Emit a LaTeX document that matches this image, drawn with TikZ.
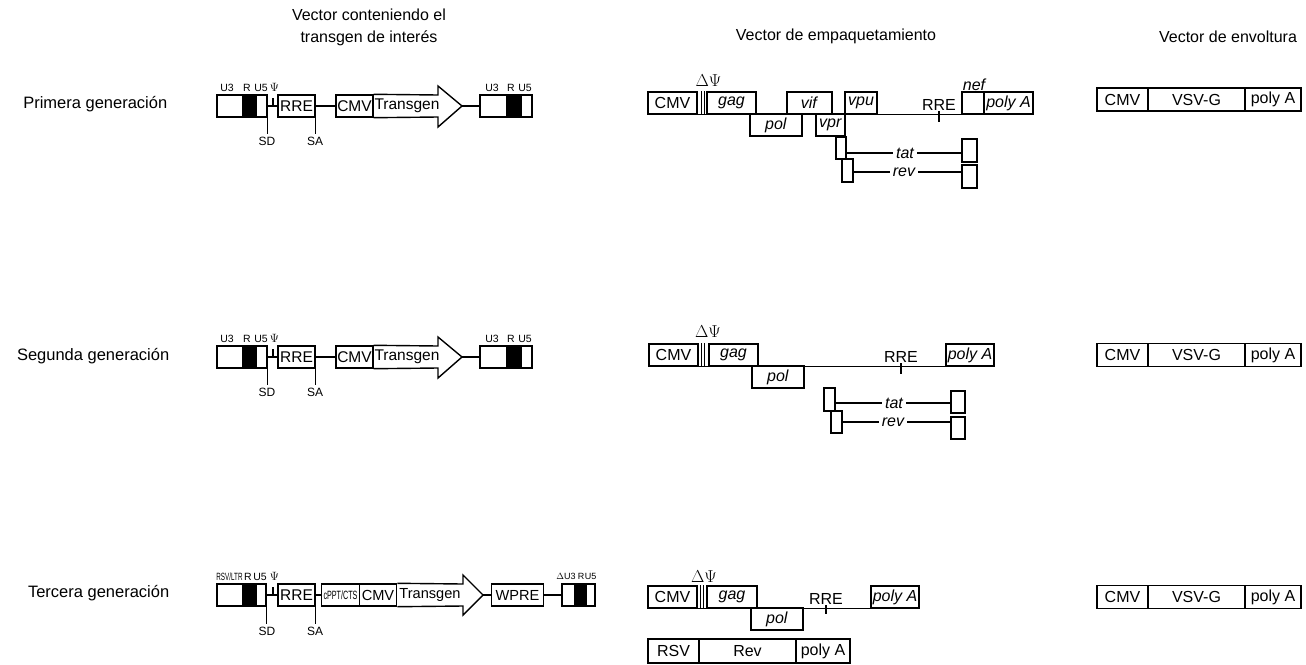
\documentclass[tikz,border=0pt]{standalone}
\usepackage{fontspec}
\setmainfont{Liberation Sans}
\usepackage{graphicx}
\usetikzlibrary{positioning,calc}

\begin{document}
\begin{tikzpicture}[
		x=1pt, y=-1pt, line width=1.4pt,
		every node/.style={inner sep=0pt},
		caja/.style={draw, rectangle, minimum height=22pt, font=\fontsize{16}{16}\selectfont},
		cajat/.style={caja, font=\fontsize{15.5}{15.5}\selectfont},
		negro/.style={draw, fill=black, rectangle, minimum height=22pt},
		chico/.style={font=\fontsize{10.5}{10.5}\selectfont},
		mini/.style={font=\fontsize{9}{9}\selectfont},
		psi/.style={font=\fontsize{12.5}{12.5}\selectfont},
		sitio/.style={font=\fontsize{12}{12}\selectfont, inner sep=2.5pt},
		gen/.style={font=\fontsize{16}{16}\selectfont\itshape, inner sep=2.5pt},
		texto/.style={font=\fontsize{16}{16}\selectfont},
		fila/.style={anchor=east, font=\fontsize{16.5}{16.5}\selectfont},
		titulo/.style={align=center, font=\fontsize{16}{22}\selectfont}
		]
		\useasboundingbox (0,0) rectangle (1306,664);
		
		% Los titulos
		\node[titulo] (t1) at (369,27) {Vector conteniendo el\\transgen de interés};
		\node[titulo] (t2) at (836,36) {Vector de empaquetamiento};
		\node[titulo] (t3) at (1228,37) {Vector de envoltura};
		\node[fila] (f1) at (168,104) {Primera generación};
		\node[fila] (f2) at (170,356) {Segunda generación};
		\node[fila] (f3) at (170,593) {Tercera generación};
		
		% Primera generacion - vector de transferencia
		\node[cajat, minimum width=50pt] (ltrA1) at (242,106) {};
		\node[negro, minimum width=13pt] (rA1) at (249.5,106) {};
		\node[chico] (u3A1) at (227,88) {U3};
		\node[chico] (rrA1) at (247,88) {R};
		\node[chico] (u5A1) at (261,88) {U5};
		\node[psi] (psiA1) at (274.5,87) {$\Psi$};
		\node[cajat, minimum width=37pt] (rre1) at (296.5,106) {RRE};
		\node[sitio] (sd1) at (267,141) {SD};
		\node[sitio] (sa1) at (315,141) {SA};
		\node[cajat, minimum width=37pt] (cmvT1) at (354.5,106) {CMV};
		\draw (cmvT1.north east) -- (438,95) -- (438,86) -- (462,106) coordinate (punta1)
			-- (438,127) -- (438,117) -- (cmvT1.south east);
		\node[font=\fontsize{15.5}{15.5}\selectfont] (tg1) at (407,106) {Transgen};
		\node[cajat, minimum width=52pt] (ltrB1) at (506,106) {};
		\node[negro, minimum width=14pt] (rB1) at (514,106) {};
		\node[chico] (u3B1) at (492,88) {U3};
		\node[chico] (rrB1) at (511,88) {R};
		\node[chico] (u5B1) at (525,88) {U5};
		\coordinate (tick1) at (273,98);
		\draw (ltrA1) -- (rre1);
		\draw (rre1) -- (cmvT1);
		\draw (punta1) -- (ltrB1);
		\draw (tick1) -- (tick1 |- rre1.west);
		\draw (ltrA1.east) -- (ltrA1.east |- sd1.north);
		\draw (rre1.east) -- (rre1.east |- sa1.north);
		
		% Segunda generacion - vector de transferencia
		\node[cajat, minimum width=50pt] (ltrA2) at (242,357) {};
		\node[negro, minimum width=13pt] (rA2) at (249.5,357) {};
		\node[chico] (u3A2) at (227,339) {U3};
		\node[chico] (rrA2) at (247,339) {R};
		\node[chico] (u5A2) at (261,339) {U5};
		\node[psi] (psiA2) at (274.5,338) {$\Psi$};
		\node[cajat, minimum width=37pt] (rre2) at (296.5,357) {RRE};
		\node[sitio] (sd2) at (267,392) {SD};
		\node[sitio] (sa2) at (315,392) {SA};
		\node[cajat, minimum width=37pt] (cmvT2) at (354.5,357) {CMV};
		\draw (cmvT2.north east) -- (438,346) -- (438,337) -- (462,357) coordinate (punta2)
			-- (438,378) -- (438,368) -- (cmvT2.south east);
		\node[font=\fontsize{15.5}{15.5}\selectfont] (tg2) at (407,357) {Transgen};
		\node[cajat, minimum width=52pt] (ltrB2) at (506,357) {};
		\node[negro, minimum width=14pt] (rB2) at (514,357) {};
		\node[chico] (u3B2) at (492,339) {U3};
		\node[chico] (rrB2) at (511,339) {R};
		\node[chico] (u5B2) at (525,339) {U5};
		\coordinate (tick2) at (273,349);
		\draw (ltrA2) -- (rre2);
		\draw (rre2) -- (cmvT2);
		\draw (punta2) -- (ltrB2);
		\draw (tick2) -- (tick2 |- rre2.west);
		\draw (ltrA2.east) -- (ltrA2.east |- sd2.north);
		\draw (rre2.east) -- (rre2.east |- sa2.north);
		
		% Tercera generacion - vector de transferencia
		\node[cajat, minimum width=49pt] (ltrA3) at (241.5,595) {};
		\node[negro, minimum width=13pt] (rA3) at (249.5,595) {};
		\node[chico] (rsv3) at (229.5,577) {\scalebox{0.6}[1]{RSV/LTR}};
		\node[chico] (rrA3) at (248,577) {R};
		\node[chico] (u5A3) at (260,577) {U5};
		\node[psi] (psiA3) at (274.5,576) {$\Psi$};
		\node[cajat, minimum width=37pt] (rre3) at (296.5,595) {RRE};
		\node[sitio] (sd3) at (267,631) {SD};
		\node[sitio] (sa3) at (315,631) {SA};
		\node[caja, minimum width=37.5pt, font=\fontsize{12}{12}\selectfont] (cppt3) at (340.5,595) {\scalebox{0.6}[1]{cPPT/CTS}};
		\node[caja, minimum width=37.5pt, font=\fontsize{14.6}{14.6}\selectfont] (cmvT3) at (378,595) {CMV};
		\draw (cmvT3.north east) -- (463,584) -- (463,575) -- (483,595) coordinate (punta3)
			-- (463,615) -- (463,606) -- (cmvT3.south east);
		\node[font=\fontsize{14.6}{14.6}\selectfont] (tg3) at (430,595) {Transgen};
		\node[caja, minimum width=51.5pt, font=\fontsize{14.6}{14.6}\selectfont] (wpre3) at (517.5,595) {WPRE};
		\node[caja, minimum width=33pt] (ltrB3) at (578.5,595) {};
		\node[negro, minimum width=11.5pt] (rB3) at (580.8,595) {};
		\node[mini] (u3B3) at (566,576) {$\Delta$U3};
		\node[mini] (rrB3) at (581,576) {R};
		\node[mini] (u5B3) at (590.5,576) {U5};
		\coordinate (tick3) at (273,587);
		\draw (ltrA3) -- (rre3);
		\draw (rre3) -- (cppt3);
		\draw (punta3) -- (wpre3);
		\draw (wpre3) -- (ltrB3);
		\draw (tick3) -- (tick3 |- rre3.west);
		\draw (ltrA3.east) -- (ltrA3.east |- sd3.north);
		\draw (rre3.east) -- (rre3.east |- sa3.north);
		
		% Primera generacion - vector de empaquetamiento
		\node[caja, minimum width=49pt] (cmvE1) at (672.5,103) {CMV};
		\node[texto] (dpsi1) at (708.5,81) {$\Delta\Psi$};
		\node[caja, minimum width=49pt] (gag1) at (731.5,103) {\textit{gag}};
		\node[caja, minimum width=52pt] (pol1) at (776,125) {\textit{pol}};
		\node[caja, minimum width=45pt] (vif1) at (809.5,103) {\textit{vif}};
		\node[caja, minimum width=29pt] (vpr1) at (830.5,125) {\textit{vpr}};
		\node[caja, minimum width=32pt] (vpu1) at (861,103) {\textit{vpu}};
		\node[texto] (rreL1) at (939,105) {RRE};
		\node[caja, minimum width=22pt] (nef1) at (973,103) {};
		\node[gen] (nefL1) at (974,85) {nef};
		\node[caja, minimum width=49pt] (polyA1) at (1008.5,103) {\textit{poly A}};
		\draw (cmvE1.south east) -- (nef1.south west);
		\draw ([xshift=4pt]cmvE1.north east) -- ([xshift=4pt]cmvE1.south east);
		\draw ([xshift=7pt]cmvE1.north east) -- ([xshift=7pt]cmvE1.south east);
		\draw (rreL1.south) -- ++(0,11);
		\node[caja, minimum width=10pt] (tatA1) at (841,148) {};
		\node[gen] (tatL1) at (905,153) {tat};
		\node[caja, minimum width=15pt, minimum height=23pt] (tatB1) at (969.5,150.5) {};
		\node[caja, minimum width=11pt, minimum height=23pt] (revA1) at (847.5,170.5) {};
		\node[gen] (revL1) at (904,172) {rev};
		\node[caja, minimum width=15pt, minimum height=23pt] (revB1) at (969.5,176.5) {};
		\draw (tatL1.west -| tatA1.east) -- (tatL1.west);
		\draw (tatL1.east) -- (tatL1.east -| tatB1.west);
		\draw (revL1.west -| revA1.east) -- (revL1.west);
		\draw (revL1.east) -- (revL1.east -| revB1.west);
		
		% Segunda generacion - vector de empaquetamiento
		\node[caja, minimum width=49pt] (cmvE2) at (673.5,355) {CMV};
		\node[texto] (dpsi2) at (708,332) {$\Delta\Psi$};
		\node[caja, minimum width=49pt] (gag2) at (733.5,355) {\textit{gag}};
		\node[caja, minimum width=52pt] (pol2) at (778,377) {\textit{pol}};
		\node[texto] (rreL2) at (901,357) {RRE};
		\node[caja, minimum width=48pt] (polyA2) at (970,355) {\textit{poly A}};
		\draw (cmvE2.south east) -- (polyA2.south west);
		\draw ([xshift=3pt]cmvE2.north east) -- ([xshift=3pt]cmvE2.south east);
		\draw ([xshift=6pt]cmvE2.north east) -- ([xshift=6pt]cmvE2.south east);
		\draw (rreL2.south) -- ++(0,11);
		\node[caja, minimum width=11pt, minimum height=23pt] (tatA2) at (829.5,399.5) {};
		\node[gen] (tatL2) at (894,403) {tat};
		\node[caja, minimum width=14pt] (tatB2) at (958,402) {};
		\node[caja, minimum width=11pt] (revA2) at (836.5,422) {};
		\node[gen] (revL2) at (893,422) {rev};
		\node[caja, minimum width=14pt] (revB2) at (958,428) {};
		\draw (tatL2.west -| tatA2.east) -- (tatL2.west);
		\draw (tatL2.east) -- (tatL2.east -| tatB2.west);
		\draw (revL2.west -| revA2.east) -- (revL2.west);
		\draw (revL2.east) -- (revL2.east -| revB2.west);
		
		% Tercera generacion - vector de empaquetamiento
		\node[caja, minimum width=49pt] (cmvE3) at (672.5,597) {CMV};
		\node[texto] (dpsi3) at (704,577) {$\Delta\Psi$};
		\node[caja, minimum width=50pt] (gag3) at (732,597) {\textit{gag}};
		\node[caja, minimum width=52pt] (pol3) at (777,619) {\textit{pol}};
		\node[texto] (rreL3) at (826,599) {RRE};
		\node[caja, minimum width=48pt] (polyA3) at (895,597) {\textit{poly A}};
		\draw (cmvE3.south east) -- (polyA3.south west);
		\draw ([xshift=3pt]cmvE3.north east) -- ([xshift=3pt]cmvE3.south east);
		\draw ([xshift=6pt]cmvE3.north east) -- ([xshift=6pt]cmvE3.south east);
		\draw (rreL3.south) -- ++(0,9);
		\node[caja, minimum width=51pt, minimum height=24pt] (rsv3) at (673.5,651) {RSV};
		\node[caja, minimum width=97pt, minimum height=24pt] (rev3) at (747.5,651) {Rev};
		\node[caja, minimum width=54pt, minimum height=24pt] (polyB3) at (823,651) {poly A};
		
		% Vector de envoltura
		\node[caja, minimum width=51pt, minimum height=23pt] (cmvV1) at (1122.5,99.5) {CMV};
		\node[caja, minimum width=97pt, minimum height=23pt] (vsv1) at (1196.5,99.5) {VSV-G};
		\node[caja, minimum width=56pt, minimum height=23pt] (polyV1) at (1273,99.5) {poly A};
		\node[caja, minimum width=51pt, minimum height=23pt] (cmvV2) at (1122.5,355) {CMV};
		\node[caja, minimum width=97pt, minimum height=23pt] (vsv2) at (1196.5,355) {VSV-G};
		\node[caja, minimum width=56pt, minimum height=23pt] (polyV2) at (1273,355) {poly A};
		\node[caja, minimum width=51pt, minimum height=23pt] (cmvV3) at (1122.5,597) {CMV};
		\node[caja, minimum width=97pt, minimum height=23pt] (vsv3) at (1196.5,597) {VSV-G};
		\node[caja, minimum width=56pt, minimum height=23pt] (polyV3) at (1273,597) {poly A};
	\end{tikzpicture}
\end{document}
